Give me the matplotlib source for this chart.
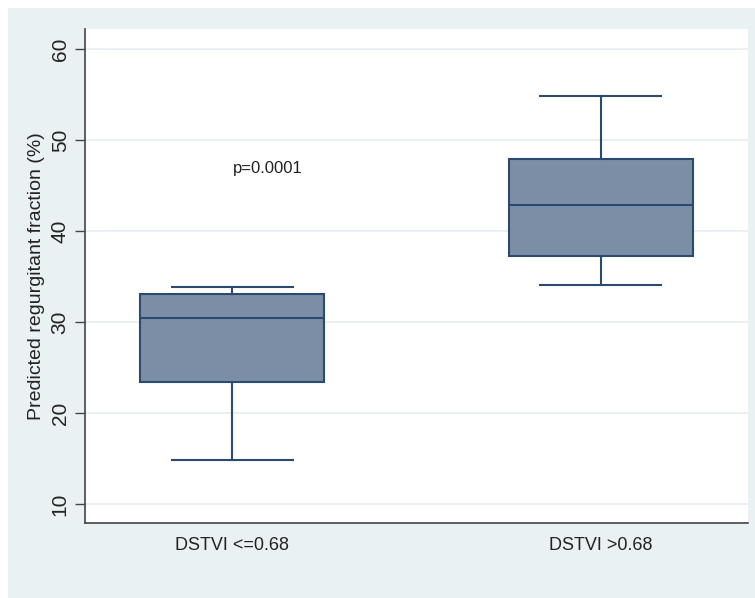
import matplotlib
matplotlib.use("Agg")
import matplotlib.pyplot as plt
from matplotlib.patches import Rectangle

# Data (box statistics)
categories = ["DSTVI <=0.68", "DSTVI >0.68"]
whisker_low = [14.8, 34.1]
q1 = [23.4, 37.2]
median = [30.4, 42.8]
q3 = [33.1, 47.9]
whisker_high = [33.8, 54.8]
yticks = [10, 20, 30, 40, 50, 60]
annotation = "p=0.0001"

plt.rcParams['font.family'] = ['Liberation Sans', 'DejaVu Sans']

fig = plt.figure(figsize=(7.55, 5.98), dpi=100, facecolor="white")
# outer graph region (Stata-like pale blue)
fig.patches.append(Rectangle((8/755, 0), 1 - 8/755, 1 - 8/598, transform=fig.transFigure,
                             facecolor="#E9F1F3", edgecolor="none", zorder=-10))

ax = fig.add_axes([85/755, 1 - 523/598, (748 - 85)/755, (523 - 29)/598])
ax.set_facecolor("white")

stats = []
for i, c in enumerate(categories):
    stats.append(dict(label=c, whislo=whisker_low[i], q1=q1[i], med=median[i],
                      q3=q3[i], whishi=whisker_high[i], fliers=[]))

line_color = "#2B4A72"
ax.bxp(stats, positions=[1, 2], widths=0.5, capwidths=0.33, patch_artist=True,
       showfliers=False,
       boxprops=dict(facecolor="#7B8EA6", edgecolor=line_color, linewidth=1.5),
       medianprops=dict(color=line_color, linewidth=1.5),
       whiskerprops=dict(color=line_color, linewidth=1.5),
       capprops=dict(color=line_color, linewidth=1.5))

ax.set_xlim(0.6, 2.4)
ax.set_ylim(7.9, 62.2)
ax.set_yticks(yticks)
ax.set_yticklabels([str(t) for t in yticks], rotation=90, va="center", fontsize=15)
ax.set_xticks([1, 2])
ax.set_xticklabels(categories, fontsize=13)
ax.tick_params(axis="x", length=0, pad=10, colors="#222222")
ax.tick_params(axis="y", length=7, width=1, color="#444444", pad=4, labelcolor="#222222")

ax.yaxis.grid(True, color="#E6EEF0", linewidth=1.2)
ax.set_axisbelow(True)

for s in ["top", "right"]:
    ax.spines[s].set_visible(False)
ax.spines["left"].set_color("#444444")
ax.spines["bottom"].set_color("#444444")
ax.spines["left"].set_linewidth(1.2)
ax.spines["bottom"].set_linewidth(1.2)

ax.set_ylabel("Predicted regurgitant fraction (%)", fontsize=14, labelpad=4, color="#222222")

ax.text(1.096, 46.9, annotation, fontsize=12, ha="center", va="center", color="#222222")

fig.savefig("out.png", dpi=100, facecolor=fig.get_facecolor())
